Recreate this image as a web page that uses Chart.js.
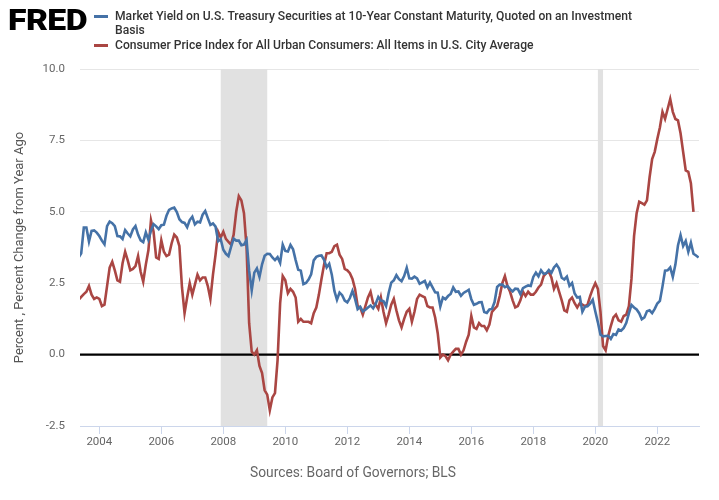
<!DOCTYPE html>
<html>
<head>
<meta charset="utf-8">
<script src="https://cdn.jsdelivr.net/npm/chart.js@4.4.0/dist/chart.umd.min.js"></script>
<style>
html,body{margin:0;padding:0;background:#fff;}
#wrap{position:relative;width:719px;height:500px;overflow:hidden;font-family:Roboto,"Liberation Sans",sans-serif;}
#c{position:absolute;left:0;top:0;width:719px;height:500px;}
.fit{position:absolute;white-space:nowrap;transform-origin:0 0;}
.leg{font-size:12.5px;line-height:14px;font-weight:500;color:#333;}
.mk{position:absolute;width:14px;height:3px;}
#logo{font-size:30px;line-height:30px;font-weight:900;color:#000;letter-spacing:-0.5px;}
#src{font-size:14px;line-height:16px;color:#666;}
</style>
</head>
<body>
<div id="wrap">
  <canvas id="c" width="719" height="500"></canvas>
  <div class="fit" id="logo" style="left:8px;top:5px;" data-w="79">FRED</div>
  <div class="mk" style="left:94px;top:14.5px;background:#4572a7;"></div>
  <div class="fit leg" id="leg1" style="left:115px;top:9px;" data-w="517">Market Yield on U.S. Treasury Securities at 10-Year Constant Maturity, Quoted on an Investment</div>
  <div class="fit leg legs" style="left:115px;top:23px;">Basis</div>
  <div class="mk" style="left:94px;top:43.5px;background:#aa4643;"></div>
  <div class="fit leg legs" style="left:115px;top:38px;">Consumer Price Index for All Urban Consumers: All Items in U.S. City Average</div>
  <div class="fit" id="src" style="left:250px;top:464px;" data-w="206">Sources: Board of Governors; BLS</div>
</div>
<script>
// ---------- data (monthly) ----------
const seriesStartYear = 2003;
const seriesStartMonth = 5; // May 2003

// 10-Year Treasury market yield, percent (May 2003 - May 2023)
const treasuryYield = [
  3.40, 3.55, 4.45, 4.45, 3.96, 4.33, 4.35, 4.27,
  4.15, 3.99, 3.86, 4.50, 4.66, 4.60, 4.50, 4.15, 4.14, 4.05, 4.36, 4.24,
  4.14, 4.38, 4.50, 4.20, 4.00, 3.94, 4.28, 4.02, 4.34, 4.57, 4.49, 4.39,
  4.53, 4.55, 4.86, 5.07, 5.12, 5.15, 4.99, 4.74, 4.64, 4.61, 4.46, 4.71,
  4.83, 4.56, 4.65, 4.63, 4.90, 5.03, 4.78, 4.54, 4.59, 4.48, 3.97, 4.04,
  3.67, 3.53, 3.45, 3.77, 4.06, 3.99, 3.99, 3.83, 3.85, 4.01, 2.93, 2.25,
  2.87, 3.02, 2.72, 3.16, 3.46, 3.53, 3.52, 3.40, 3.31, 3.41, 3.21, 3.85,
  3.63, 3.61, 3.84, 3.69, 3.31, 2.97, 2.94, 2.47, 2.51, 2.63, 2.81, 3.30,
  3.42, 3.46, 3.47, 3.32, 3.05, 3.18, 2.80, 2.23, 1.92, 2.17, 2.08, 1.89,
  1.83, 1.98, 2.23, 1.95, 1.59, 1.67, 1.51, 1.57, 1.65, 1.72, 1.62, 1.78,
  2.02, 1.89, 1.87, 1.70, 2.16, 2.52, 2.60, 2.78, 2.64, 2.57, 2.75, 3.04,
  2.67, 2.66, 2.73, 2.67, 2.48, 2.53, 2.58, 2.35, 2.52, 2.35, 2.18, 2.17,
  1.68, 2.00, 1.94, 2.05, 2.12, 2.35, 2.20, 2.21, 2.06, 2.16, 2.21, 2.27,
  1.94, 1.74, 1.78, 1.83, 1.84, 1.49, 1.46, 1.58, 1.60, 1.84, 2.37, 2.45,
  2.45, 2.36, 2.40, 2.29, 2.21, 2.31, 2.30, 2.12, 2.33, 2.38, 2.42, 2.40,
  2.72, 2.87, 2.74, 2.95, 2.83, 2.85, 2.96, 2.86, 3.05, 3.15, 3.01, 2.69,
  2.63, 2.73, 2.41, 2.51, 2.14, 2.00, 2.02, 1.50, 1.68, 1.69, 1.78, 1.92,
  1.51, 1.13, 0.70, 0.64, 0.65, 0.66, 0.55, 0.72, 0.69, 0.88, 0.84, 0.93,
  1.11, 1.44, 1.74, 1.65, 1.58, 1.45, 1.24, 1.30, 1.52, 1.55, 1.45, 1.60,
  1.79, 1.88, 2.38, 2.94, 2.95, 3.05, 2.72, 3.15, 3.82, 4.18, 3.80, 3.98,
  3.60, 3.92, 3.53, 3.47, 3.40
];

// CPI-U, percent change from year ago (May 2003 - Mar 2023)
const cpiChange = [
  1.92, 2.02, 2.12, 2.20, 2.40, 2.10, 1.95, 2.00,
  1.95, 1.70, 1.75, 2.40, 3.05, 3.25, 2.95, 2.60, 2.55, 3.20, 3.60, 3.30,
  2.95, 3.00, 3.10, 3.45, 2.90, 2.55, 3.15, 3.65, 4.70, 4.30, 3.40, 3.35,
  4.00, 3.60, 3.45, 3.50, 3.90, 4.20, 4.10, 3.80, 2.35, 1.45, 2.00, 2.50,
  2.10, 2.45, 2.80, 2.60, 2.70, 2.70, 2.40, 1.95, 2.80, 3.50, 4.30, 4.10,
  4.30, 4.05, 3.95, 3.85, 4.20, 5.00, 5.55, 5.40, 4.95, 3.75, 1.10, 0.10,
  0.00, 0.15, -0.40, -0.65, -1.25, -1.40, -1.95, -1.50, -1.35, -0.20, 1.80, 2.75,
  2.60, 2.15, 2.30, 2.20, 2.00, 1.15, 1.25, 1.15, 1.15, 1.15, 1.10, 1.45,
  1.65, 2.10, 2.65, 3.15, 3.55, 3.55, 3.60, 3.80, 3.85, 3.50, 3.35, 3.00,
  2.95, 2.85, 2.65, 2.30, 1.70, 1.65, 1.40, 1.70, 2.00, 2.20, 1.80, 1.75,
  1.60, 2.00, 1.50, 1.10, 1.40, 1.75, 1.95, 1.55, 1.20, 0.95, 1.25, 1.50,
  1.60, 1.15, 1.50, 1.95, 2.10, 2.05, 2.00, 1.70, 1.65, 1.65, 1.30, 0.75,
  -0.10, 0.00, -0.05, -0.20, 0.00, 0.10, 0.20, 0.20, 0.00, 0.15, 0.45, 0.70,
  1.35, 0.95, 0.90, 1.10, 1.00, 1.00, 0.85, 1.05, 1.50, 1.60, 1.70, 2.05,
  2.50, 2.75, 2.40, 2.20, 1.90, 1.65, 1.70, 1.90, 2.20, 2.05, 2.20, 2.10,
  2.10, 2.20, 2.35, 2.45, 2.75, 2.85, 2.90, 2.70, 2.30, 2.50, 2.20, 1.90,
  1.55, 1.50, 1.90, 2.00, 1.80, 1.65, 1.80, 1.75, 1.70, 1.75, 2.05, 2.30,
  2.50, 2.30, 1.50, 0.30, 0.15, 0.65, 1.00, 1.30, 1.40, 1.20, 1.15, 1.35,
  1.40, 1.70, 2.65, 4.15, 4.95, 5.35, 5.30, 5.25, 5.40, 6.20, 6.85, 7.10,
  7.55, 7.95, 8.50, 8.25, 8.60, 8.95, 8.50, 8.25, 8.20, 7.75, 7.10, 6.45,
  6.40, 6.00, 5.00
];

// Recessions (start month, end month) as decimal years
const recessionStarts = [2007 + 11/12, 2020 + 1/12];
const recessionEnds   = [2009 + 5/12,  2020 + 3/12];

const xTickYears = [2004, 2006, 2008, 2010, 2012, 2014, 2016, 2018, 2020, 2022];
const yTickValues = [-2.5, 0, 2.5, 5, 7.5, 10];
const seriesLabels = [
  'Market Yield on U.S. Treasury Securities at 10-Year Constant Maturity, Quoted on an Investment Basis',
  'Consumer Price Index for All Urban Consumers: All Items in U.S. City Average'
];

const X_MIN = 2003.377, X_MAX = 2023.345;

function toPoints(values) {
  return values.map((v, i) => ({ x: seriesStartYear + (seriesStartMonth - 1 + i) / 12, y: v }));
}

const fredPlugin = {
  id: 'fredExtras',
  beforeDatasetsDraw(chart) {
    const { ctx, chartArea: { top, bottom, left, right }, scales: { x, y } } = chart;
    ctx.save();
    ctx.beginPath();
    ctx.rect(left, top, right - left, bottom - top);
    ctx.clip();
    ctx.fillStyle = '#e1e1e1';
    recessionStarts.forEach((s, i) => {
      const x0 = x.getPixelForValue(s), x1 = x.getPixelForValue(recessionEnds[i]);
      ctx.fillRect(x0, top, x1 - x0, bottom - top);
    });
    const y0 = y.getPixelForValue(0);
    ctx.strokeStyle = '#000';
    ctx.lineWidth = 2.2;
    ctx.beginPath();
    ctx.moveTo(left, y0);
    ctx.lineTo(right, y0);
    ctx.stroke();
    ctx.restore();
  }
};

const tickFont = { family: 'Roboto', size: 11.5 };

new Chart(document.getElementById('c'), {
  type: 'line',
  data: {
    datasets: [
      { label: seriesLabels[0], data: toPoints(treasuryYield), borderColor: '#4572a7', backgroundColor: '#4572a7',
        borderWidth: 2.6, pointRadius: 0, tension: 0, fill: false },
      { label: seriesLabels[1], data: toPoints(cpiChange), borderColor: '#aa4643', backgroundColor: '#aa4643',
        borderWidth: 2.6, pointRadius: 0, tension: 0, fill: false }
    ]
  },
  options: {
    responsive: false,
    animation: false,
    devicePixelRatio: 1,
    layout: { padding: { top: 69, right: 20, bottom: 44, left: 0 } },
    plugins: { legend: { display: false }, tooltip: { enabled: false } },
    scales: {
      x: {
        type: 'linear', min: X_MIN, max: X_MAX,
        afterBuildTicks: s => { s.ticks = xTickYears.map(v => ({ value: v })); },
        afterFit: s => { s.height = 30; },
        grid: { drawOnChartArea: false, drawTicks: true, tickLength: 8, color: '#ccd6eb' },
        border: { display: true, color: '#ccd6eb', width: 1 },
        ticks: { padding: 1, color: '#666', font: tickFont, maxRotation: 0, autoSkip: false,
                 callback: v => String(v) }
      },
      y: {
        min: -2.5, max: 10,
        afterBuildTicks: s => { s.ticks = yTickValues.map(v => ({ value: v })); },
        afterFit: s => { s.width = 80; },
        grid: { drawTicks: false, color: c => (c.tick && c.tick.value === -2.5) ? 'rgba(0,0,0,0)' : '#e6e6e6' },
        border: { display: false },
        ticks: { padding: 15, color: '#666', font: tickFont, callback: v => Number(v).toFixed(1) },
        title: { display: true, text: 'Percent , Percent Change from Year Ago', color: '#555',
                 font: { family: 'Roboto', size: 13 }, padding: { top: 12, bottom: 0 } }
      }
    }
  },
  plugins: [fredPlugin]
});

// fit condensed-looking text widths
function fitAll() {
  const leg1 = document.getElementById('leg1');
  leg1.style.transform = 'none';
  const s = 517 / leg1.getBoundingClientRect().width;
  leg1.style.transform = 'scaleX(' + s + ')';
  document.querySelectorAll('.legs').forEach(el => el.style.transform = 'scaleX(' + s + ')');
  ['logo', 'src'].forEach(id => {
    const el = document.getElementById(id);
    el.style.transform = 'none';
    const k = parseFloat(el.dataset.w) / el.getBoundingClientRect().width;
    el.style.transform = 'scaleX(' + k + ')';
  });
}
fitAll();
</script>
</body>
</html>
